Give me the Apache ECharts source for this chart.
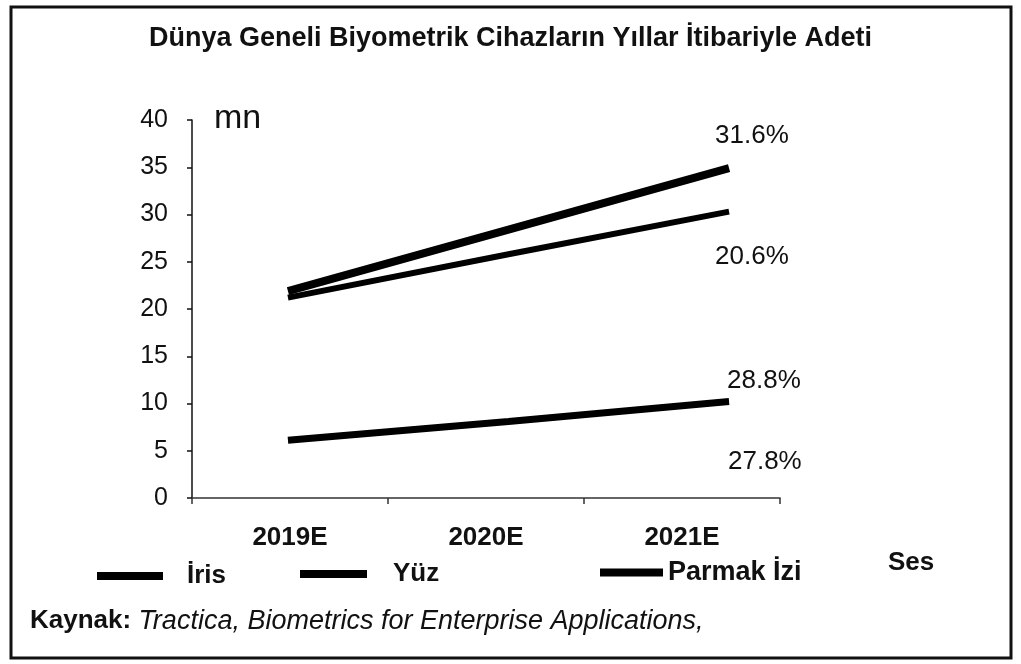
<!DOCTYPE html>
<html>
<head>
<meta charset="utf-8">
<script src="https://cdn.jsdelivr.net/npm/echarts@6/dist/echarts.min.js"></script>
<style>
  html, body { margin: 0; padding: 0; background: #fff; }
  #chart { width: 1021px; height: 664px; }
</style>
</head>
<body>
<div id="chart"></div>
<script>
// ---- data ----
const categories = ['2019E', '2020E', '2021E'];
const seriesNames = ['İris', 'Yüz', 'Parmak İzi', 'Ses'];
const irisValues = [21.9, 28.4, 34.9];
const yuzValues = [21.2, 25.8, 30.3];
const parmakValues = [6.1, 8.1, 10.2];
const sesValues = [];              // no line visible for Ses in the source
const growthLabels = ['31.6%', '20.6%', '28.8%', '27.8%'];
const yMin = 0, yMax = 40, yInterval = 5;
const titleText = 'Dünya Geneli Biyometrik Cihazların Yıllar İtibariyle Adeti';
const unitText = 'mn';
const sourceBold = 'Kaynak:';
const sourceItalic = 'Tractica, Biometrics for Enterprise Applications,';

const FONT = "'Liberation Sans', Arial, sans-serif";
const chart = echarts.init(document.getElementById('chart'), null, { renderer: 'canvas' });

function toPoints(vals) { return vals.map((v, i) => [i, v]); }

const lineWidths = [8, 6, 7, 6];
const labelOffsets = [[-19, -32], [-19, 45], [-7, -21], [0, 0]];
const valueSets = [irisValues, yuzValues, parmakValues, sesValues];

const series = seriesNames.map((name, k) => ({
  name: name,
  type: 'line',
  xAxisIndex: 1,
  yAxisIndex: 0,
  data: toPoints(valueSets[k]),
  symbol: 'none',
  silent: true,
  color: '#000',
  itemStyle: { color: '#000' },
  lineStyle: { color: '#000', width: lineWidths[k], cap: 'butt' },
  endLabel: {
    show: valueSets[k].length > 0,
    formatter: growthLabels[k],
    offset: labelOffsets[k],
    distance: 5,
    fontSize: 26,
    fontFamily: FONT,
    color: '#111'
  }
}));

const legendBase = {
  orient: 'horizontal',
  padding: 0,
  selectedMode: false,
  icon: 'rect',
  itemHeight: 8,
  textStyle: { fontSize: 26, fontWeight: 'bold', fontFamily: FONT, color: '#111' }
};

const option = {
  animation: false,
  backgroundColor: '#fff',
  title: {
    text: titleText,
    left: 'center',
    top: 25,
    padding: 0,
    textStyle: { fontSize: 27, fontWeight: 'bold', fontFamily: FONT, color: '#111' }
  },
  legend: [
    Object.assign({}, legendBase, { data: [seriesNames[0]], left: 97, top: 563, itemWidth: 66,
      textStyle: Object.assign({}, legendBase.textStyle, { padding: [0, 0, 0, 19] }) }),
    Object.assign({}, legendBase, { data: [seriesNames[1]], left: 300, top: 561, itemWidth: 67,
      textStyle: Object.assign({}, legendBase.textStyle, { padding: [0, 0, 0, 21] }) }),
    Object.assign({}, legendBase, { data: [seriesNames[2]], left: 600, top: 559, itemWidth: 63,
      textStyle: Object.assign({}, legendBase.textStyle, { fontSize: 27 }) }),
    Object.assign({}, legendBase, { data: [seriesNames[3]], left: 883, top: 550, itemWidth: 0, itemHeight: 0,
      itemStyle: { opacity: 0 } })
  ],
  grid: { left: 192, right: 241, top: 120, bottom: 166, containLabel: false, outerBoundsMode: 'none' },
  xAxis: [
    {
      type: 'category',
      data: categories,
      boundaryGap: true,
      axisLine: { show: true, onZero: false, lineStyle: { color: '#333', width: 1.5 } },
      axisTick: { show: true, length: 6, alignWithLabel: false, lineStyle: { color: '#333', width: 1.5 } },
      axisLabel: { fontSize: 26, fontWeight: 'bold', fontFamily: FONT, color: '#111', margin: 27 },
      splitLine: { show: false }
    },
    {
      type: 'value',
      min: -0.435,
      max: 2.231,
      show: false
    }
  ],
  yAxis: {
    type: 'value',
    min: yMin,
    max: yMax,
    interval: yInterval,
    axisLine: { show: true, onZero: false, lineStyle: { color: '#111', width: 1.5 } },
    axisTick: { show: true, length: 5, inside: false, lineStyle: { color: '#111', width: 1.5 } },
    axisLabel: { fontSize: 25, fontFamily: FONT, color: '#111', margin: 24 },
    splitLine: { show: false }
  },
  series: series,
  graphic: [
    {
      type: 'rect',
      shape: { x: 11, y: 7, width: 1000, height: 651 },
      style: { fill: 'none', stroke: '#111', lineWidth: 3 },
      silent: true
    },
    {
      type: 'text',
      x: 214, y: 119,
      style: { text: unitText, fontSize: 34, fontFamily: FONT, fill: '#111', textVerticalAlign: 'middle' },
      silent: true
    },
    {
      type: 'text',
      x: 728, y: 462,
      style: { text: growthLabels[3], fontSize: 26, fontFamily: FONT, fill: '#111', textVerticalAlign: 'middle' },
      silent: true
    },
    {
      type: 'text',
      x: 30, y: 621,
      style: {
        text: '{b|' + sourceBold + '} {i|' + sourceItalic + '}',
        textVerticalAlign: 'middle',
        rich: {
          b: { fontSize: 26, fontWeight: 'bold', fontFamily: FONT, fill: '#111', color: '#111' },
          i: { fontSize: 27, fontStyle: 'italic', fontFamily: FONT, fill: '#111', color: '#111' }
        },
        fontSize: 26,
        fontFamily: FONT,
        fill: '#111'
      },
      silent: true
    }
  ]
};

chart.setOption(option);
</script>
</body>
</html>
